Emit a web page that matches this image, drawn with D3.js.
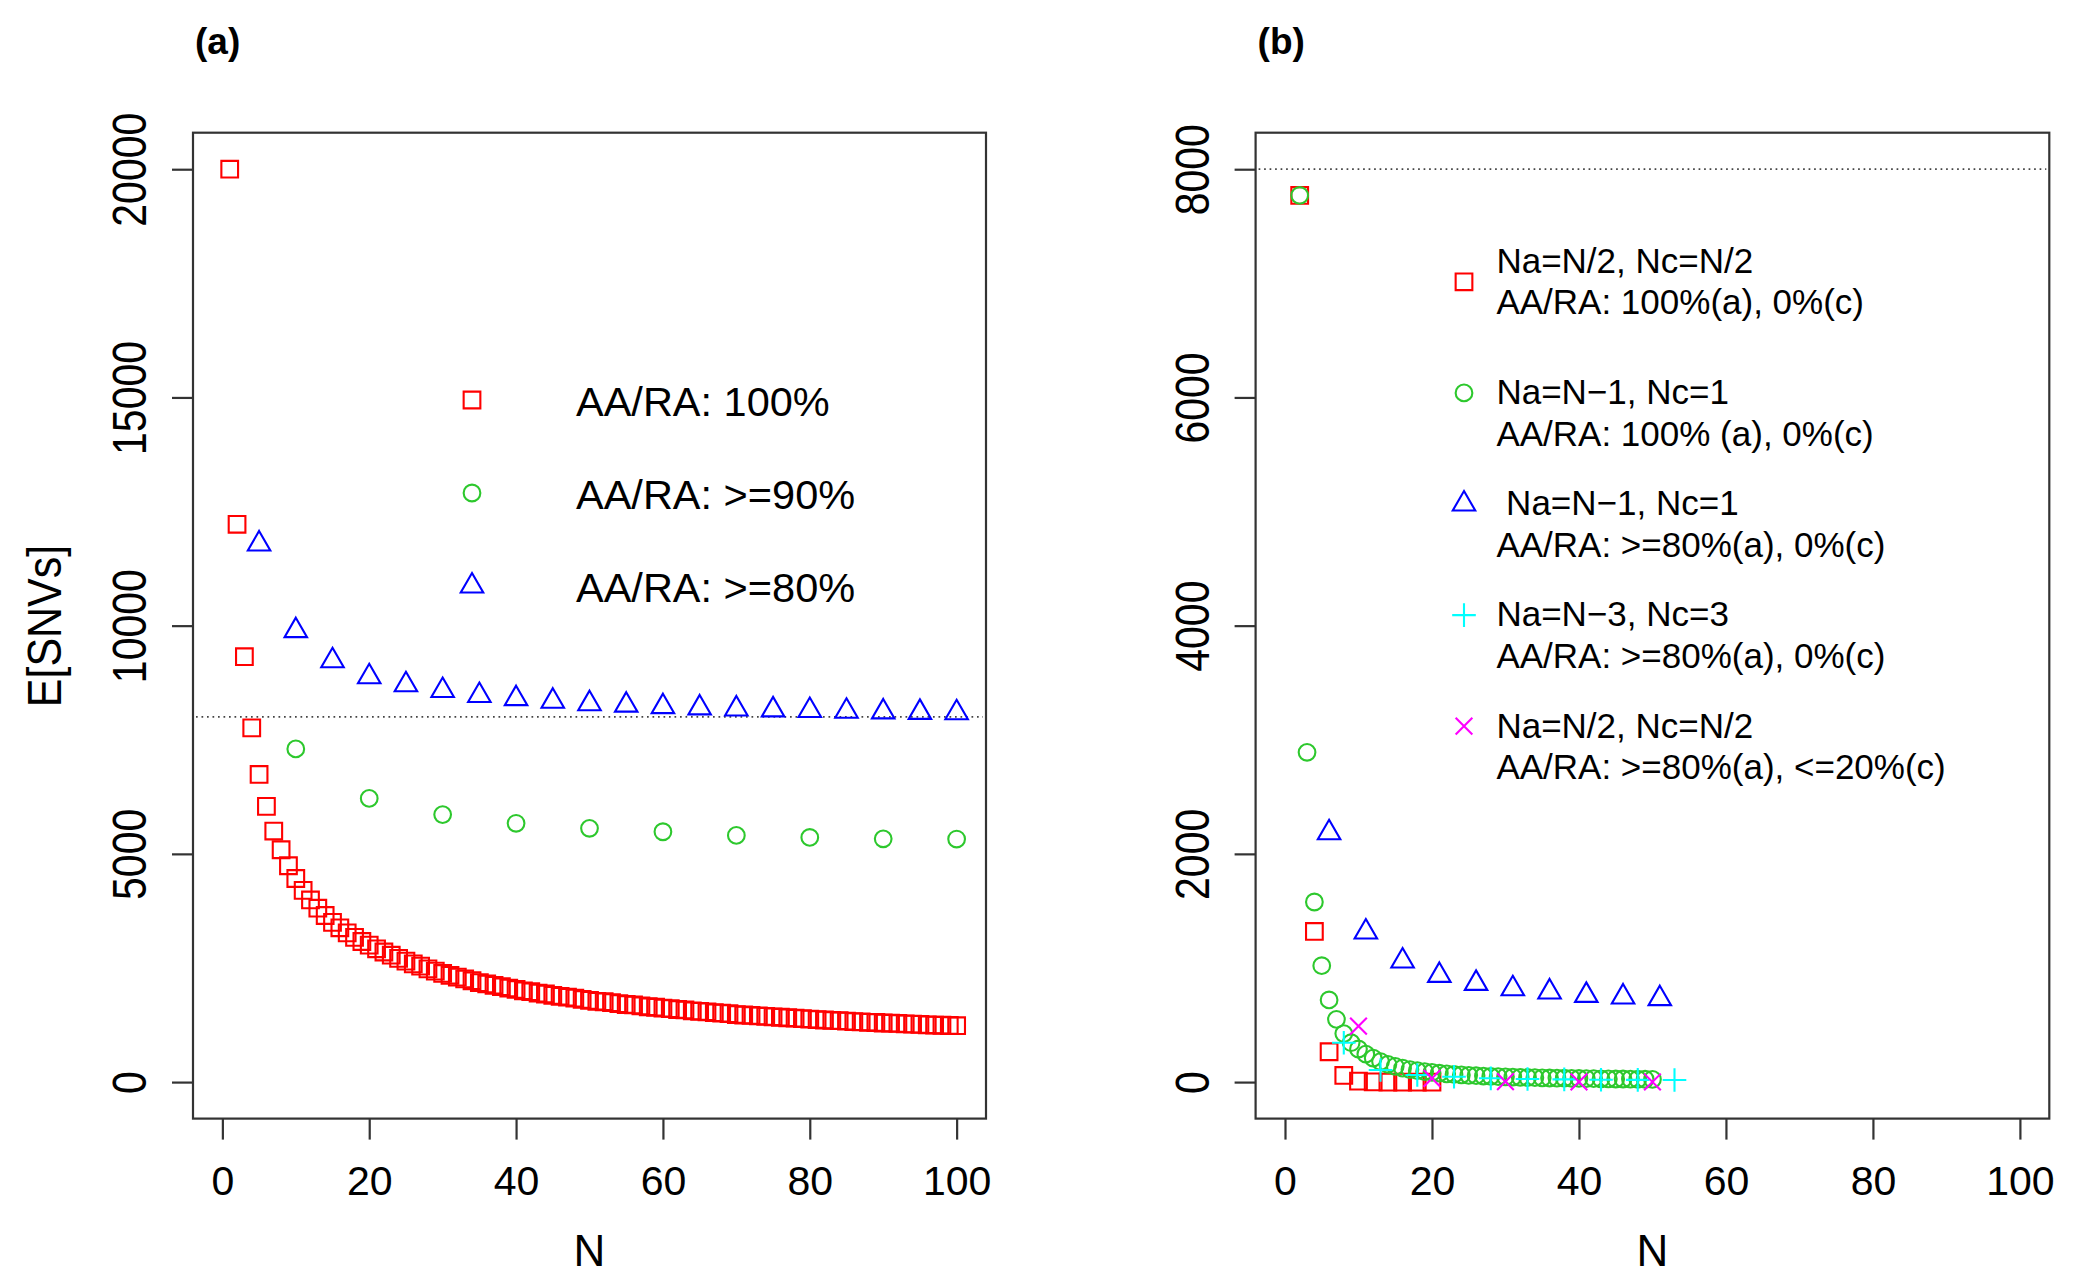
<!DOCTYPE html>
<html>
<head>
<meta charset="utf-8">
<script src="https://cdn.jsdelivr.net/npm/d3@7"></script>
<style>
  body { margin: 0; background: #fff; }
  text { font-family: "Liberation Sans", Arial, sans-serif; fill: #000; }
</style>
</head>
<body>
<svg id="chart" width="2089" height="1277"></svg>
<script>
// ---- panel (a) data ----
var nRedA = d3.range(1, 101);
var redA = [20000, 12220, 9320, 7760, 6740, 6040, 5500, 5090, 4740, 4460,
            4200, 3990, 3810, 3650, 3500, 3380, 3270, 3170, 3080, 3000,
            2920, 2850, 2780, 2710, 2650, 2590, 2540, 2480, 2430, 2380,
            2340, 2300, 2260, 2220, 2180, 2150, 2120, 2090, 2060, 2030,
            2000, 1980, 1950, 1930, 1900, 1880, 1860, 1840, 1810, 1790,
            1770, 1760, 1740, 1720, 1700, 1690, 1670, 1650, 1640, 1620,
            1610, 1590, 1580, 1560, 1550, 1540, 1520, 1510, 1500, 1480,
            1470, 1460, 1450, 1440, 1430, 1420, 1410, 1400, 1390, 1380,
            1370, 1360, 1350, 1345, 1335, 1325, 1320, 1310, 1305, 1295,
            1290, 1285, 1275, 1270, 1265, 1255, 1250, 1245, 1240, 1235];
var nGreenA = d3.range(10, 101, 10);
var greenA = [7300, 6215, 5860, 5670, 5560, 5485, 5405, 5360, 5330, 5325];
var nBlueA = d3.range(5, 101, 5);
var blueA = [11790, 9890, 9230, 8880, 8705, 8580, 8470, 8400, 8345, 8290,
             8258, 8225, 8198, 8175, 8155, 8140, 8125, 8110, 8100, 8090];

// ---- panel (b) data ----
var nRedB = d3.range(2, 21, 2);
var redB = [7770, 1320, 266, 58, 8, 2, 0, 0, 0, 0];
var nGreenB = d3.range(2, 51);
var greenB = [7770, 2890, 1578, 1020, 720, 550, 425, 345, 290, 245,
              210, 180, 155, 138, 122, 110, 100, 92, 85, 78,
              72, 67, 63, 59, 56, 53, 50, 48, 46, 44,
              42, 40, 39, 37, 36, 35, 34, 33, 32, 31,
              30, 29, 28, 27, 27, 26, 25, 25, 24];
var nBlueB = d3.range(6, 52, 5);
var blueB = [2185, 1315, 1061, 935, 865, 818, 790, 760, 746, 731];
var nCyanB = d3.range(8, 54, 5);
var cyanB = [345, 106, 62, 47, 33, 27, 24, 21, 19, 18];
var nMagB = d3.range(10, 51, 10);
var magB = [490, 33, 4, 2, 1];

var xTicks = [0, 20, 40, 60, 80, 100];
var yTicksA = [0, 5000, 10000, 15000, 20000];
var yTicksB = [0, 2000, 4000, 6000, 8000];

var legendA = ["AA/RA: 100%", "AA/RA: >=90%", "AA/RA: >=80%"];
var legendB = [
  ["Na=N/2, Nc=N/2", "AA/RA: 100%(a), 0%(c)"],
  ["Na=N\u22121, Nc=1", "AA/RA: 100% (a), 0%(c)"],
  [" Na=N\u22121, Nc=1", "AA/RA: >=80%(a), 0%(c)"],
  ["Na=N\u22123, Nc=3", "AA/RA: >=80%(a), 0%(c)"],
  ["Na=N/2, Nc=N/2", "AA/RA: >=80%(a), <=20%(c)"]
];

var RED = "#ff0000", GREEN = "#2dc82d", BLUE = "#0000ff", CYAN = "#00ffff", MAGENTA = "#ff00ff";

var svg = d3.select("#chart");
svg.append("rect").attr("width", 2089).attr("height", 1277).attr("fill", "#fff");

// R style plotting symbols
var S = 16.7;
var LW = 2.1;
function pch(p) {
  var h = S / 2;
  if (p === 0) return "M" + (-h) + "," + (-h) + "h" + S + "v" + S + "h" + (-S) + "Z";
  if (p === 1) return "M" + h + ",0A" + h + "," + h + " 0 1,1 " + (-h) + ",0A" + h + "," + h + " 0 1,1 " + h + ",0Z";
  if (p === 2) {
    var r = 0.7776 * S, xc = 0.6734 * S;
    return "M0," + (-r) + "L" + xc + "," + (r / 2) + "L" + (-xc) + "," + (r / 2) + "Z";
  }
  if (p === 3) {
    var a = h * Math.SQRT2;
    return "M" + (-a) + ",0H" + a + "M0," + (-a) + "V" + a;
  }
  return "M" + (-h) + "," + (-h) + "L" + h + "," + h + "M" + (-h) + "," + h + "L" + h + "," + (-h);
}

var plotTop = 132.7, plotBottom = 1118.6;

function panel(opt) {
  var g = svg.append("g");
  var x = d3.scaleLinear().domain([-4, 104]).range([opt.left, opt.right]);
  var y = d3.scaleLinear().domain(opt.ydom).range([plotBottom, plotTop]);

  // reference line
  g.append("line")
    .attr("x1", opt.left + 3).attr("x2", opt.right - 3)
    .attr("y1", y(opt.href)).attr("y2", y(opt.href))
    .attr("stroke", "#444").attr("stroke-width", 1.7)
    .attr("stroke-dasharray", "1.7,3.8");

  // points
  opt.series.forEach(function(s) {
    g.append("g").selectAll("path")
      .data(s.n.map(function(n, i) { return [n, s.v[i]]; }))
      .enter().append("path")
      .attr("transform", function(d) { return "translate(" + x(d[0]) + "," + y(d[1]) + ")"; })
      .attr("d", pch(s.pch))
      .attr("fill", "none")
      .attr("stroke", s.col)
      .attr("stroke-width", LW);
  });

  // box
  g.append("rect")
    .attr("x", opt.left).attr("y", plotTop)
    .attr("width", opt.right - opt.left).attr("height", plotBottom - plotTop)
    .attr("fill", "none").attr("stroke", "#333").attr("stroke-width", 2.2);

  // x axis
  var ax = g.append("g").attr("transform", "translate(0," + plotBottom + ")")
    .call(d3.axisBottom(x).tickValues(xTicks).tickSize(21).tickSizeOuter(0));
  ax.attr("font-family", null).attr("font-size", null);
  ax.select(".domain").remove();
  ax.selectAll("line").attr("stroke", "#333").attr("stroke-width", 2.2);
  ax.selectAll("text").attr("y", 76).attr("dy", null)
    .attr("font-size", 41).attr("fill", "#000");

  // y axis
  var ay = g.append("g").attr("transform", "translate(" + opt.left + ",0)")
    .call(d3.axisLeft(y).tickValues(opt.yticks).tickSize(21).tickSizeOuter(0).tickFormat(d3.format("d")));
  ay.attr("font-family", null).attr("font-size", null);
  ay.select(".domain").remove();
  ay.selectAll("line").attr("stroke", "#333").attr("stroke-width", 2.2);
  ay.selectAll("text").attr("x", null).attr("dy", null)
    .attr("text-anchor", "middle")
    .attr("transform", "translate(-47,0) rotate(-90) scale(1,1.15)")
    .attr("font-size", 41).attr("fill", "#000");

  // x label
  g.append("text")
    .attr("x", (opt.left + opt.right) / 2).attr("y", 1266)
    .attr("text-anchor", "middle").attr("font-size", 44).text("N");

  // panel title
  g.append("text")
    .attr("x", opt.left + 2).attr("y", 54)
    .attr("font-size", 37).attr("font-weight", "bold").text(opt.title);

  return g;
}

var gA = panel({
  left: 193, right: 986, ydom: [-800, 20800], yticks: yTicksA, href: 8000, title: "(a)",
  series: [
    { n: nRedA, v: redA, pch: 0, col: RED },
    { n: nGreenA, v: greenA, pch: 1, col: GREEN },
    { n: nBlueA, v: blueA, pch: 2, col: BLUE }
  ]
});

var gB = panel({
  left: 1255.6, right: 2049.3, ydom: [-320, 8320], yticks: yTicksB, href: 8000, title: "(b)",
  series: [
    { n: nRedB, v: redB, pch: 0, col: RED },
    { n: nGreenB, v: greenB, pch: 1, col: GREEN },
    { n: nBlueB, v: blueB, pch: 2, col: BLUE },
    { n: nCyanB, v: cyanB, pch: 3, col: CYAN },
    { n: nMagB, v: magB, pch: 4, col: MAGENTA }
  ]
});

// y axis title
svg.append("text")
  .attr("transform", "translate(61,626) rotate(-90) scale(1,1.1)")
  .attr("text-anchor", "middle").attr("font-size", 43).text("E[SNVs]");

// legend (a)
var colsA = [RED, GREEN, BLUE];
legendA.forEach(function(t, i) {
  var cy = 400 + i * 93;
  gA.append("path").attr("transform", "translate(472," + cy + ")")
    .attr("d", pch(i)).attr("fill", "none").attr("stroke", colsA[i]).attr("stroke-width", LW);
  gA.append("text").attr("x", 576).attr("y", cy + 16).attr("font-size", 41.5).text(t);
});

// legend (b)
var colsB = [RED, GREEN, BLUE, CYAN, MAGENTA];
legendB.forEach(function(lines, i) {
  var cy = 281.8 + i * 111.1;
  var off = i === 0 ? -8.9 : 11.3;
  gB.append("path").attr("transform", "translate(1464," + cy + ")")
    .attr("d", pch(i)).attr("fill", "none").attr("stroke", colsB[i]).attr("stroke-width", LW);
  lines.forEach(function(t, j) {
    gB.append("text").attr("x", 1496.4).attr("y", cy + off + j * 41.4)
      .attr("font-size", 35).style("white-space", "pre").text(t);
  });
});
</script>
</body>
</html>
